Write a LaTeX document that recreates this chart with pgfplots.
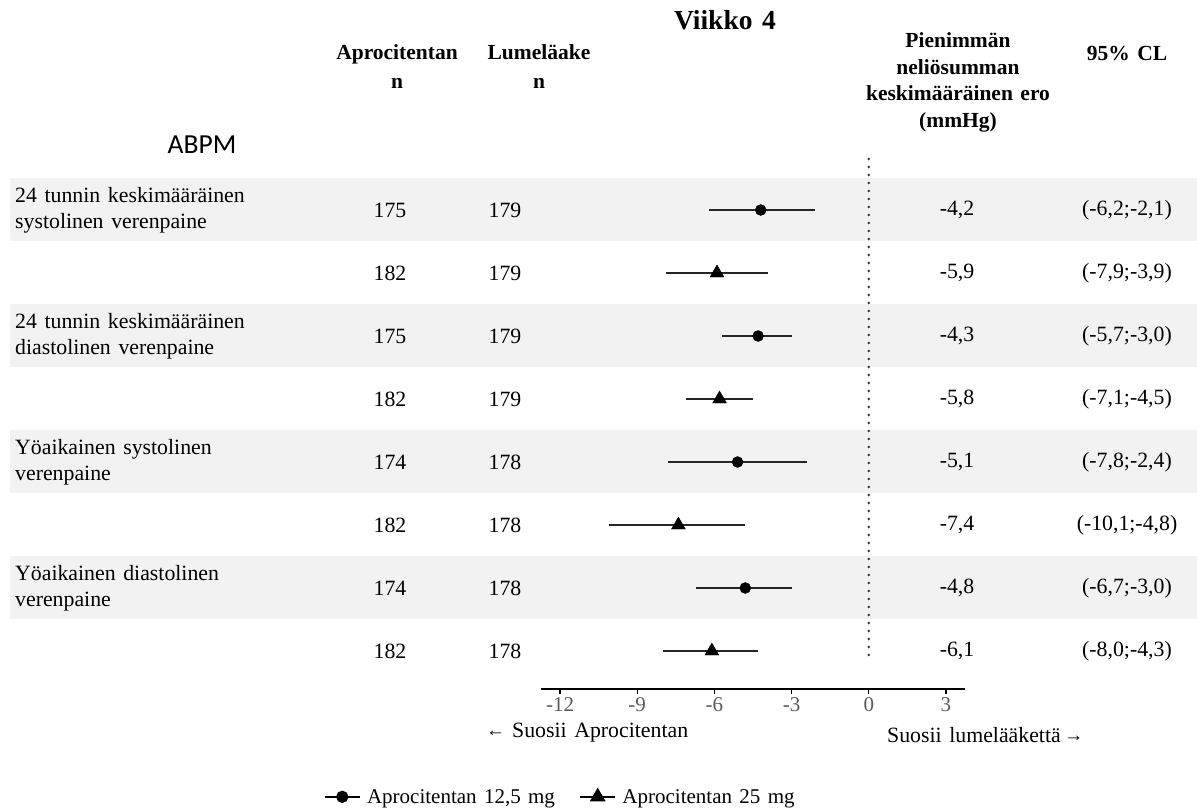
\documentclass[border=0pt]{standalone}
\usepackage{pgfplots}
\pgfplotsset{compat=1.18}
\usepackage{fontspec}
\setmainfont{Liberation Serif}[WordSpace=1.4]
\newfontfamily\calibri{Carlito}
\definecolor{band}{HTML}{F2F2F2}
\definecolor{ticklab}{HTML}{5A5A5A}
\newcommand\rowtxt[5]{%
  \node at (390,#1) {#2};
  \node at (505,#1) {#3};
  \node at (957,#1) {#4};
  \node at (1127,#1) {#5};}
\begin{document}
\begin{tikzpicture}
\begin{scope}[x=1pt,y=-1pt]
\path[use as bounding box] (0,0) rectangle (1197,807);
\foreach \t in {178,304,430,556} \fill[band] (10,\t) rectangle (1197,\t+63);
\end{scope}
\begin{axis}[
  at={(541pt,-689pt)}, anchor=south west,
  scale only axis, width=424pt, height=539pt,
  xmin=-12.74, xmax=3.74, ymin=118, ymax=657,
  axis x line=bottom, axis y line=none,
  x axis line style={-, line width=1.6pt},
  xtick={-12,-9,-6,-3,0,3},
  xticklabels={-12,-9,-6,-3,0,3},
  tick align=outside, major tick length=5pt,
  xtick style={line width=1.2pt, black},
  xticklabel style={font=\fontsize{21}{24}\selectfont, text=ticklab},
  clip=false,
  legend columns=2,
  legend style={draw=none, fill=none, at={(0.045,-0.2)}, anchor=center,
    font=\fontsize{21}{24}\selectfont,
    /tikz/every odd column/.append style={column sep=4pt},
    /tikz/every even column/.append style={column sep=22pt}},
  legend image code/.code={\draw[#1, mark repeat=2, mark phase=2] plot coordinates {(0cm,0cm) (0.62cm,0cm) (1.24cm,0cm)};},
]
\draw[line width=2.6pt, dash pattern=on 0pt off 8pt, line cap=round, black!80] (axis cs:0,152) -- (axis cs:0,655);
\addplot[forget plot, only marks, mark=*, mark size=5.5pt, black,
  error bars/.cd, x dir=both, x explicit, error mark=none,
  error bar style={line width=2.4pt, black!85}] coordinates {
(-4.2,597) += (2.1,0) -= (2.0,0)
(-4.3,471) += (1.3,0) -= (1.4,0)
(-5.1,345) += (2.7,0) -= (2.7,0)
(-4.8,219) += (1.8,0) -= (1.9,0)
};
\addplot[forget plot, only marks, mark=triangle*, mark size=8pt, black,
  error bars/.cd, x dir=both, x explicit, error mark=none,
  error bar style={line width=2.4pt, black!85}] coordinates {
(-5.9,534) += (2.0,0) -= (2.0,0)
(-5.8,408) += (1.3,0) -= (1.3,0)
(-7.4,282) += (2.6,0) -= (2.7,0)
(-6.1,156) += (1.8,0) -= (1.9,0)
};
\addlegendimage{black, line width=2.2pt, mark=*, mark size=5pt, mark options={solid}}
\addlegendentry{Aprocitentan 12,5 mg}
\addlegendimage{black, line width=2.2pt, mark=triangle*, mark size=7pt, mark options={solid}}
\addlegendentry{Aprocitentan 25 mg}
\end{axis}
\begin{scope}[x=1pt,y=-1pt, every node/.style={font=\fontsize{21.8}{26}\selectfont, inner sep=0pt}]
\node[font=\bfseries\fontsize{27.5}{30}\selectfont] at (725,20) {Viikko 4};
\node[align=center, font=\bfseries\fontsize{21.5}{29}\selectfont] at (397,67) {Aprocitentan\\n};
\node[align=center, font=\bfseries\fontsize{21.5}{29}\selectfont] at (539,67) {Lumeläake\\n};
\node[align=center, font=\bfseries\fontsize{21.5}{26.5}\selectfont] at (958,82.5) {Pienimmän\\neliösumman\\keskimääräinen ero\\(mmHg)};
\node[font=\bfseries\fontsize{21.5}{26}\selectfont] at (1127,53) {95\% CL};
\node[font=\calibri\fontsize{27.5}{30}\selectfont] at (202,145) {ABPM};
\node[anchor=west, align=left] at (15,210) {24 tunnin keskimääräinen\\systolinen verenpaine};
\node[anchor=west, align=left] at (15,336) {24 tunnin keskimääräinen\\diastolinen verenpaine};
\node[anchor=west, align=left] at (15,462) {Yöaikainen systolinen\\verenpaine};
\node[anchor=west, align=left] at (15,588) {Yöaikainen diastolinen\\verenpaine};
\rowtxt{210}{175}{179}{-4,2}{(-6,2;-2,1)}
\rowtxt{273}{182}{179}{-5,9}{(-7,9;-3,9)}
\rowtxt{336}{175}{179}{-4,3}{(-5,7;-3,0)}
\rowtxt{399}{182}{179}{-5,8}{(-7,1;-4,5)}
\rowtxt{462}{174}{178}{-5,1}{(-7,8;-2,4)}
\rowtxt{525}{182}{178}{-7,4}{(-10,1;-4,8)}
\rowtxt{588}{174}{178}{-4,8}{(-6,7;-3,0)}
\rowtxt{651}{182}{178}{-6,1}{(-8,0;-4,3)}
\node[anchor=west] at (486,733) {\raisebox{1.2pt}{\fontsize{19}{20}\selectfont ←}\hspace{7pt}Suosii Aprocitentan};
\node[anchor=west] at (887,735) {Suosii lumelääkettä\,\raisebox{1.2pt}{\fontsize{19}{20}\selectfont →}};
\end{scope}
\end{tikzpicture}
\end{document}
